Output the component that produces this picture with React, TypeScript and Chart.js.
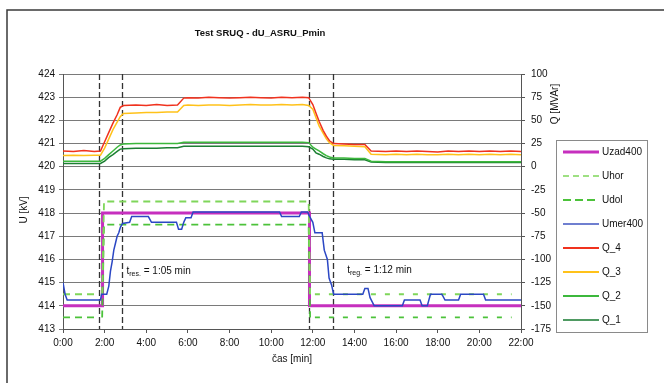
import React, { useEffect, useRef } from "react";
import { Chart, registerables } from "chart.js";

Chart.register(...registerables);

const FONT = "'Liberation Sans', Arial, sans-serif";

// ---- data ----
const xTickLabels = ["0:00", "2:00", "4:00", "6:00", "8:00", "10:00", "12:00", "14:00", "16:00", "18:00", "20:00", "22:00"];
const markerTimes = [1.75, 2.85, 11.8, 12.98];

const uzadT = [0, 1.9, 1.9, 11.84, 11.84, 22];
const uzadV = [414, 414, 418, 418, 414, 414];

const limT = [0, 1.72, 1.73, 1.88, 1.97, 11.8, 11.87, 11.88, 12.1, 21.55];
const uhorV = [414.5, 414.5, null, 414.5, 418.5, 418.5, 414.5, null, 414.5, 414.5];
const udolV = [413.5, 413.5, null, 413.5, 417.5, 417.5, 413.5, null, 413.5, 413.5];

const umerT = [0, 0.1, 0.2, 1.8, 1.85, 2.1, 2.2, 2.28, 2.36, 2.44, 2.52, 2.6, 2.68, 2.76, 2.86, 3.2, 3.3, 4.1, 4.25, 5.45, 5.55, 5.7, 5.8, 5.9, 6.15, 6.25, 10.4, 10.5, 11.35, 11.45, 11.75, 11.85, 12.0, 12.1, 12.45, 12.55, 12.7, 12.78, 12.9, 13.0, 14.4, 14.5, 14.65, 14.75, 14.95, 16.3, 16.4, 17.15, 17.25, 17.5, 17.65, 18.2, 18.35, 19.0, 19.1, 20.2, 20.3, 22.0];
const umerV = [415, 414.5, 414.25, 414.25, 414.5, 414.5, 414.85, 415.5, 415.9, 416.4, 416.7, 417.0, 417.15, 417.4, 417.55, 417.6, 417.85, 417.85, 417.6, 417.6, 417.3, 417.3, 417.6, 417.8, 417.8, 418.05, 418.05, 417.85, 417.85, 418.05, 418.05, 417.85, 417.6, 417.15, 417.15, 416.4, 416.0, 415.2, 414.9, 414.5, 414.5, 414.75, 414.75, 414.35, 414.0, 414.0, 414.25, 414.25, 414.0, 414.0, 414.5, 414.5, 414.25, 414.25, 414.5, 414.5, 414.25, 414.25];

const qT = [0, 0.5, 1.0, 1.5, 1.8, 2.0, 2.2, 2.4, 2.6, 2.75, 2.9, 3.5, 4.0, 4.5, 5.0, 5.5, 5.8, 6.0, 6.5, 7.0, 7.5, 8.0, 8.5, 9.0, 9.5, 10.0, 10.5, 11.0, 11.5, 11.8, 12.0, 12.15, 12.3, 12.5, 12.65, 12.8, 13.0, 13.5, 14.0, 14.5, 14.8, 15.5, 16.0, 16.5, 17.0, 17.5, 18.0, 18.5, 19.0, 19.5, 20.0, 20.5, 21.0, 21.5, 22.0];
const q4V = [17, 16.5, 17.5, 16.5, 17, 27, 37, 47, 56, 64, 66, 66.5, 66, 67, 66, 66.5, 74, 74.5, 74, 75, 74.5, 74, 74.5, 75, 74.5, 74, 75, 74.5, 75, 74.5, 67, 58, 49, 39, 33, 28, 25, 24.5, 24, 24, 17, 16.5, 17, 16.5, 17, 16.5, 16, 17, 16.5, 17, 16.5, 17, 16.5, 17, 16.5];
const q3V = [12, 12.5, 12, 12.5, 12.5, 20, 30, 40, 48, 54, 57.5, 58, 58.5, 58.5, 59, 59, 66, 66.5, 66, 66.5, 66.5, 66, 66.5, 67, 66.5, 66.5, 67, 66.5, 67, 66, 62, 53, 44, 36, 30, 26, 23, 22.5, 22, 21.5, 13.5, 13, 13.5, 13, 13.5, 13, 13, 13.5, 13, 13.5, 13, 13.5, 13, 13.5, 13];
const q2V = [6, 6, 6, 6, 6, 9, 13, 17, 21, 23.5, 24.5, 25, 25, 25, 25, 25, 26.5, 26.5, 26.5, 26.5, 26.5, 26.5, 26.5, 26.5, 26.5, 26.5, 26.5, 26.5, 26.5, 26, 21, 19, 17, 14, 12, 10.5, 9.5, 9.5, 9, 9, 6, 5.5, 5.5, 5.5, 5.5, 5.5, 5.5, 5.5, 5.5, 5.5, 5.5, 5.5, 5.5, 5.5, 5.5];
const q1V = [3.5, 3.5, 3.5, 3.5, 3.5, 6, 10, 13, 16.5, 19, 19.5, 20, 20, 20, 20.5, 20.5, 22, 22, 22, 22, 22, 22, 22, 22, 22, 22, 22, 22, 22, 21.5, 19, 15, 13.5, 11, 9.5, 8.5, 8, 8, 7.5, 7.5, 5, 4.5, 4.5, 4.5, 4.5, 4.5, 4.5, 4.5, 4.5, 4.5, 4.5, 4.5, 4.5, 4.5, 4.5];

const seriesNames = ["Uzad400", "Uhor", "Udol", "Umer400", "Q_4", "Q_3", "Q_2", "Q_1"];

// ---- styles ----
const COLORS = {
  uzad: "#c62fbe",
  uhor: "#7fd65a",
  udol: "#4cc23a",
  umer: "#2b47c4",
  q4: "#f0321e",
  q3: "#ffc21a",
  q2: "#3cb83c",
  q1: "#1c7f33",
};

const pts = (t: number[], v: (number | null)[]) => t.map((x, i) => ({ x, y: v[i] }));

const decorPlugin = {
  id: "decor",
  beforeDraw(chart: any) {
    const ctx = chart.ctx;
    ctx.save();
    ctx.fillStyle = "#ffffff";
    ctx.fillRect(0, 0, chart.width, chart.height);
    ctx.strokeStyle = "#3a3a3a";
    ctx.lineWidth = 1.5;
    ctx.beginPath();
    ctx.moveTo(7, chart.height);
    ctx.lineTo(7, 10);
    ctx.lineTo(chart.width, 10);
    ctx.stroke();
    ctx.restore();
  },
  beforeDatasetsDraw(chart: any) {
    const ctx = chart.ctx;
    const xs = chart.scales.x;
    const a = chart.chartArea;
    ctx.save();
    ctx.strokeStyle = "#333333";
    ctx.lineWidth = 1.3;
    ctx.setLineDash([6, 3]);
    markerTimes.forEach((t) => {
      const px = Math.round(xs.getPixelForValue(t)) + 0.5;
      ctx.beginPath();
      ctx.moveTo(px, a.top);
      ctx.lineTo(px, a.bottom);
      ctx.stroke();
    });
    ctx.restore();
  },
  afterDraw(chart: any) {
    const ctx = chart.ctx;
    const xs = chart.scales.x;
    const ys = chart.scales.y;
    ctx.save();
    ctx.fillStyle = "#111111";
    ctx.textBaseline = "middle";
    // title
    ctx.font = `bold 9.5px ${FONT}`;
    ctx.textAlign = "center";
    ctx.fillText("Test SRUQ - dU_ASRU_Pmin", 260, 33);
    // x title
    ctx.font = `10px ${FONT}`;
    ctx.fillText("čas [min]", 292, 359);
    // y titles
    ctx.save();
    ctx.translate(24, 210);
    ctx.rotate(-Math.PI / 2);
    ctx.fillText("U [kV]", 0, 0);
    ctx.restore();
    ctx.save();
    ctx.translate(555, 104);
    ctx.rotate(-Math.PI / 2);
    ctx.fillText("Q [MVAr]", 0, 0);
    ctx.restore();

    // annotations
    const annot = (t: number, u: number, sub: string, rest: string) => {
      let x = xs.getPixelForValue(t);
      const y = ys.getPixelForValue(u);
      ctx.textAlign = "left";
      ctx.font = `10px ${FONT}`;
      ctx.fillText("t", x, y);
      x += ctx.measureText("t").width;
      ctx.font = `7px ${FONT}`;
      ctx.fillText(sub, x, y + 3);
      x += ctx.measureText(sub).width;
      ctx.font = `10px ${FONT}`;
      ctx.fillText(rest, x, y);
    };
    annot(3.05, 415.5, "res.", " = 1:05 min");
    annot(13.65, 415.55, "reg.", " = 1:12 min");

    // legend
    const lx = 556.5, ly = 140.5, lw = 91, lh = 192;
    ctx.strokeStyle = "#8a8a8a";
    ctx.lineWidth = 1;
    ctx.setLineDash([]);
    ctx.strokeRect(lx, ly, lw, lh);
    const legendStyles = [
      { c: COLORS.uzad, w: 3, d: [] as number[] },
      { c: COLORS.uhor, w: 1.5, d: [6, 4] },
      { c: COLORS.udol, w: 2, d: [8, 4] },
      { c: "#6f7fd0", w: 2, d: [] },
      { c: COLORS.q4, w: 2, d: [] },
      { c: COLORS.q3, w: 2, d: [] },
      { c: COLORS.q2, w: 2, d: [] },
      { c: "#4f9a62", w: 2, d: [] },
    ];
    ctx.font = `10px ${FONT}`;
    ctx.textAlign = "left";
    seriesNames.forEach((name, i) => {
      const y = 152 + i * 24;
      const s = legendStyles[i];
      ctx.strokeStyle = s.c;
      ctx.lineWidth = s.w;
      ctx.setLineDash(s.d);
      ctx.beginPath();
      ctx.moveTo(563, y);
      ctx.lineTo(599, y);
      ctx.stroke();
      ctx.setLineDash([]);
      ctx.fillStyle = "#111111";
      ctx.fillText(name, 602, y);
    });
    ctx.restore();
  },
};

export default function App() {
  const ref = useRef<HTMLCanvasElement>(null);
  useEffect(() => {
    const rightDash = (ctx: any) => (ctx.p0.parsed.x >= 12 ? [5, 9] : undefined);
    const chart = new Chart(ref.current as HTMLCanvasElement, {
      type: "line",
      data: {
        datasets: [
          { label: seriesNames[0], data: pts(uzadT, uzadV), borderColor: COLORS.uzad, borderWidth: 3, pointRadius: 0, yAxisID: "y", order: 2 },
          { label: seriesNames[1], data: pts(limT, uhorV), borderColor: COLORS.uhor, borderWidth: 1.8, borderDash: [7, 5], pointRadius: 0, spanGaps: false, yAxisID: "y", order: 1, segment: { borderDash: rightDash } },
          { label: seriesNames[2], data: pts(limT, udolV), borderColor: COLORS.udol, borderWidth: 1.8, borderDash: [7, 5], pointRadius: 0, spanGaps: false, yAxisID: "y", order: 1, segment: { borderDash: rightDash } },
          { label: seriesNames[3], data: pts(umerT, umerV), borderColor: COLORS.umer, borderWidth: 1.5, pointRadius: 0, yAxisID: "y", order: -1 },
          { label: seriesNames[4], data: pts(qT, q4V), borderColor: COLORS.q4, borderWidth: 1.5, pointRadius: 0, yAxisID: "yQ", order: 0 },
          { label: seriesNames[5], data: pts(qT, q3V), borderColor: COLORS.q3, borderWidth: 1.5, pointRadius: 0, yAxisID: "yQ", order: 0 },
          { label: seriesNames[6], data: pts(qT, q2V), borderColor: COLORS.q2, borderWidth: 1.5, pointRadius: 0, yAxisID: "yQ", order: 0 },
          { label: seriesNames[7], data: pts(qT, q1V), borderColor: COLORS.q1, borderWidth: 1.5, pointRadius: 0, yAxisID: "yQ", order: 0 },
        ] as any,
      },
      options: {
        responsive: false,
        devicePixelRatio: 1,
        animation: false,
        parsing: true,
        layout: { padding: { top: 74, left: 0, right: 0, bottom: 0 } },
        plugins: { legend: { display: false }, tooltip: { enabled: false }, title: { display: false } },
        elements: { line: { tension: 0 } },
        scales: {
          x: {
            type: "linear",
            position: "bottom",
            min: 0,
            max: 22,
            afterFit: (s: any) => { s.height = 54; },
            ticks: {
              stepSize: 2,
              autoSkip: false,
              maxRotation: 0,
              padding: 4,
              color: "#111111",
              font: { family: FONT, size: 10 },
              callback: (v: any) => xTickLabels[Math.round(Number(v) / 2)] ?? "",
            },
            grid: { drawOnChartArea: false, drawTicks: true, tickLength: 4, color: "#555555" },
            border: { color: "#555555", width: 1 },
          },
          y: {
            type: "linear",
            position: "left",
            min: 413,
            max: 424,
            afterFit: (s: any) => { s.width = 63; },
            ticks: { stepSize: 1, padding: 4, color: "#111111", font: { family: FONT, size: 10 } },
            grid: { color: "#7a7a7a", lineWidth: 1, drawTicks: true, tickLength: 4 },
            border: { color: "#555555", width: 1 },
          },
          yQ: {
            type: "linear",
            position: "right",
            min: -175,
            max: 100,
            afterFit: (s: any) => { s.width = 143; },
            ticks: { stepSize: 25, padding: 6, color: "#111111", font: { family: FONT, size: 10 } },
            grid: { drawOnChartArea: false, drawTicks: true, tickLength: 4, color: "#555555" },
            border: { color: "#555555", width: 1 },
          },
        },
      } as any,
      plugins: [decorPlugin],
    });
    return () => chart.destroy();
  }, []);
  return (
    <div style={{ position: "fixed", left: 0, top: 0, width: 664, height: 383, background: "#ffffff" }}>
      <canvas ref={ref} width={664} height={383} style={{ width: 664, height: 383, display: "block" }} />
    </div>
  );
}
